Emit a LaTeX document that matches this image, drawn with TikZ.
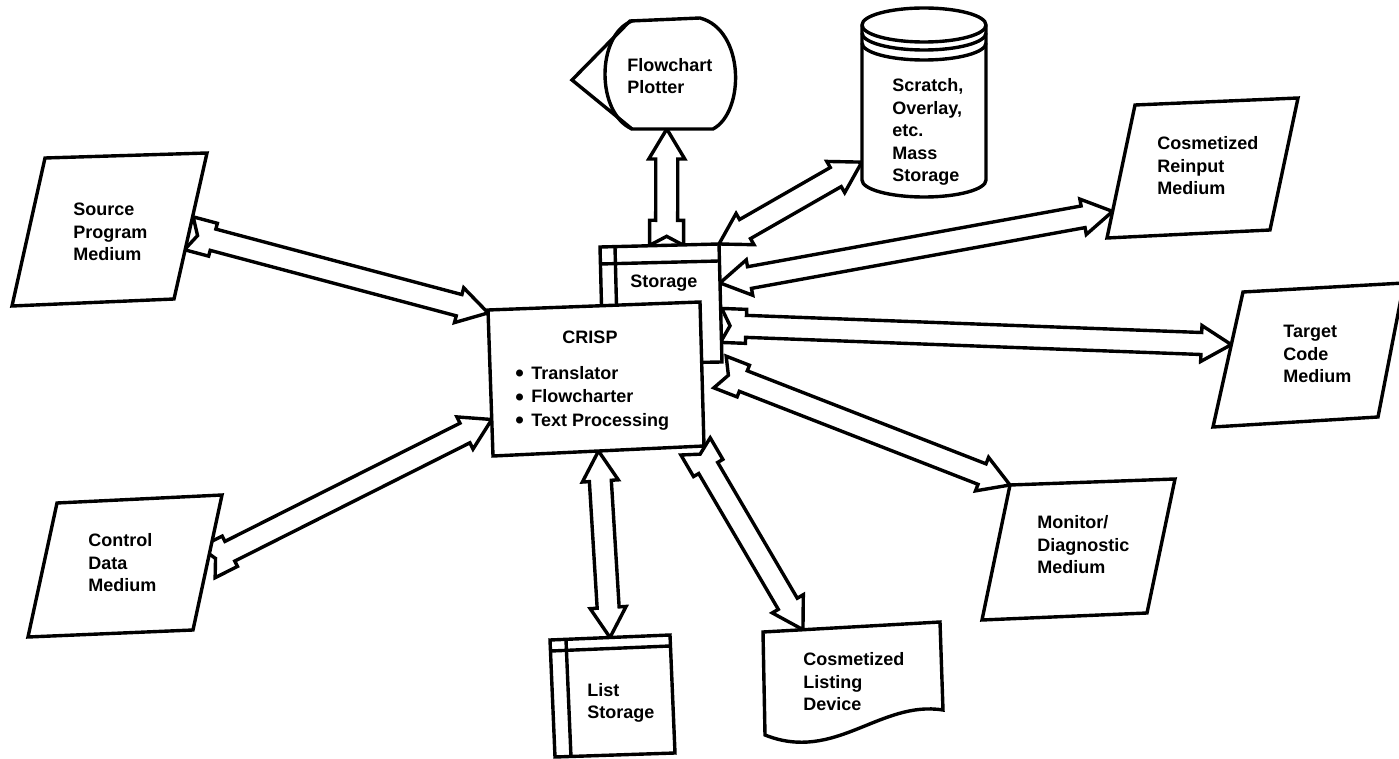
\documentclass[tikz,border=0pt]{standalone}
\usepackage{fontspec}
\setmainfont{Liberation Sans}
\usetikzlibrary{calc}
\tikzset{
  outl/.style={draw=black, line width=1.7pt, line join=miter},
  shp/.style={outl, fill=white},
  blk/.style={outl, fill=white},
  thin line/.style={draw=black, line width=1.7pt},
  lbl/.style={inner sep=0pt, align=left, anchor=west, font=\bfseries\fontsize{9}{11.25}\selectfont},
}
\newcommand\bigdot{\makebox[8pt][l]{\smash{\raisebox{-1.2pt}{\scalebox{1.35}{\textbullet}}}}}
\newcommand\arrowframe[2]{%
  \path (#1); \pgfgetlastxy{\bAx}{\bAy}%
  \path (#2); \pgfgetlastxy{\bBx}{\bBy}%
  \pgfmathsetmacro\bAng{atan2((\bBy)-(\bAy),(\bBx)-(\bAx))}%
  \pgfmathsetmacro\bLen{veclen((\bBx)-(\bAx),(\bBy)-(\bAy))}%
  \pgfmathsetmacro\bH{\bLen-15}%
}
% one head at the second end, notched tail at the first end
\newcommand\oneheadarrow[2]{%
  \arrowframe{#1}{#2}%
  \begin{scope}[shift={(\bAx,\bAy)},rotate=\bAng]
    \draw[blk] (\bLen pt,0pt) -- (\bH pt,9pt) -- (\bH pt,5.5pt) -- (12.5pt,5.5pt)
      -- (12.5pt,8.5pt) -- (0pt,8.5pt) -- (4.5pt,0pt) -- (0pt,-8.5pt) -- (12.5pt,-8.5pt)
      -- (12.5pt,-5.5pt) -- (\bH pt,-5.5pt) -- (\bH pt,-9pt) -- cycle;
  \end{scope}}
% heads at both ends
\newcommand\twoheadarrow[2]{%
  \arrowframe{#1}{#2}%
  \begin{scope}[shift={(\bAx,\bAy)},rotate=\bAng]
    \draw[blk] (\bLen pt,0pt) -- (\bH pt,9pt) -- (\bH pt,5.5pt) -- (15pt,5.5pt)
      -- (15pt,9pt) -- (0pt,0pt) -- (15pt,-9pt) -- (15pt,-5.5pt)
      -- (\bH pt,-5.5pt) -- (\bH pt,-9pt) -- cycle;
  \end{scope}}

\begin{document}
\begin{tikzpicture}[x=0.5pt,y=-0.5pt]
\fill[white] (0,0) rectangle (1399,759);
\useasboundingbox (0,0) rectangle (1399,759);
\clip (0,0) rectangle (1399,759);

% ---- corner coordinates of the shapes ----
\coordinate (sTL) at (45,158);   \coordinate (sTR) at (207,153);
\coordinate (sBR) at (174,299);  \coordinate (sBL) at (12,306);
\coordinate (kTL) at (57,503);   \coordinate (kTR) at (222,495);
\coordinate (kBR) at (193,630);  \coordinate (kBL) at (28,637);
\coordinate (cTL) at (488,310);  \coordinate (cTR) at (700,302);
\coordinate (cBR) at (704,446);  \coordinate (cBL) at (493,456);
\coordinate (tTL) at (600,247);  \coordinate (tTR) at (719,244);
\coordinate (tBR) at (722,362);  \coordinate (tBL) at (603,364);
\coordinate (pBL) at (632,129);  \coordinate (pBR) at (713,129);
\coordinate (cylL) at (862,162);
\coordinate (rTL) at (1135,105); \coordinate (rTR) at (1298,98);
\coordinate (rBR) at (1270,230); \coordinate (rBL) at (1107,238);
\coordinate (gTL) at (1243,292); \coordinate (gTR) at (1404,283);
\coordinate (gBR) at (1378,417); \coordinate (gBL) at (1213,427);
\coordinate (mTL) at (1010,485); \coordinate (mTR) at (1175,479);
\coordinate (mBR) at (1147,613); \coordinate (mBL) at (982,620);
\coordinate (lTL) at (763,632);  \coordinate (lTR) at (940,622);
\coordinate (lBR) at (943,710);  \coordinate (lBL) at (765,735);
\coordinate (qTL) at (550,640);  \coordinate (qTR) at (670,635);
\coordinate (qBR) at (675,753);  \coordinate (qBL) at (555,757);

% ---- connector end points ----
\coordinate (src-a) at ($(sTR)!0.55!(sBR)$);  \coordinate (src-b) at ($(cTL)!0.02!(cBL)$);
\coordinate (ctl-a) at ($(kTR)!0.5!(kBR)$);   \coordinate (ctl-b) at ($(cTL)!0.75!(cBL)$);
\coordinate (plt-a) at ($(tTL)!0.56!(tTR)$);  \coordinate (plt-b) at ($(pBL)!0.43!(pBR)$);
\coordinate (mas-a) at (tTR);                 \coordinate (mas-b) at (cylL);
\coordinate (rin-a) at ($(tTR)!0.33!(tBR)$);  \coordinate (rin-b) at ($(rTL)!0.8!(rBL)$);
\coordinate (tgt-a) at ($(tTR)!0.69!(tBR)$);  \coordinate (tgt-b) at ($(gTL)!0.39!(gBL)$);
\coordinate (mon-a) at ($(tBR)+(-2,10)$);     \coordinate (mon-b) at (mTL);
\coordinate (lst-a) at ($(cBL)!0.96!(cBR)$);  \coordinate (lst-b) at ($(lTL)!0.226!(lTR)$);
\coordinate (lis-a) at ($(cBL)!0.5!(cBR)$);   \coordinate (lis-b) at ($(qTL)!0.5!(qTR)$);

% ---- connectors ----
\oneheadarrow{src-a}{src-b}
\oneheadarrow{ctl-a}{ctl-b}
\oneheadarrow{plt-a}{plt-b}
\twoheadarrow{mas-a}{mas-b}
\twoheadarrow{rin-a}{rin-b}
\oneheadarrow{tgt-a}{tgt-b}
\oneheadarrow{mon-a}{mon-b}
\oneheadarrow{lst-a}{lst-b}
\twoheadarrow{lis-a}{lis-b}

% ---- shapes ----
\draw[shp] (sTL) -- (sTR) -- (sBR) -- (sBL) -- cycle;
\draw[shp] (kTL) -- (kTR) -- (kBR) -- (kBL) -- cycle;
\draw[shp] (rTL) -- (rTR) -- (rBR) -- (rBL) -- cycle;
\draw[shp] (gTL) -- (gTR) -- (gBR) -- (gBL) -- cycle;
\draw[shp] (mTL) -- (mTR) -- (mBR) -- (mBL) -- cycle;
% storage (behind CRISP)
\draw[shp] (tTL) -- (tTR) -- (tBR) -- (tBL) -- cycle;
\draw[thin line] (600,264) -- (719,261);
\draw[thin line] (615,247) -- (618,364);
% CRISP
\draw[shp] (cTL) -- (cTR) -- (cBR) -- (cBL) -- cycle;
% flowchart plotter (display)
\draw[shp] (630,21) -- (700,18) .. controls (745,30) and (745,112) .. (pBR) -- (pBL) -- (572,80) -- cycle;
\draw[thin line] (632,21) .. controls (596,35) and (596,113) .. (pBL);
% mass storage cylinder
\draw[shp] (862,25) -- (862,180) arc[start angle=180,end angle=360,x radius=31pt,y radius=8.5pt]
  -- (986,25) arc[start angle=0,end angle=180,x radius=31pt,y radius=8.5pt] -- cycle;
\draw[thin line] (862,25) arc[start angle=180,end angle=360,x radius=31pt,y radius=8.5pt];
\draw[thin line] (862,33) arc[start angle=180,end angle=360,x radius=31pt,y radius=8.5pt];
\draw[thin line] (862,43) arc[start angle=180,end angle=360,x radius=31pt,y radius=8.5pt];
% listing document
\draw[shp] (lTL) -- (lTR) -- (lBR) .. controls (880,700) and (835,763) .. (lBL) -- cycle;
% list storage
\draw[shp] (qTL) -- (qTR) -- (qBR) -- (qBL) -- cycle;
\draw[thin line] (551,651) -- (670,646);
\draw[thin line] (566,640) -- (571,757);

% ---- labels ----
\node[lbl] (t-src) at (73,232) {Source\\Program\\Medium};
\node[lbl] (t-ctl) at (88,563) {Control\\Data\\Medium};
\node[lbl, anchor=center] (t-crisp) at (590,337) {CRISP};
\node[lbl, font=\bfseries\fontsize{9}{11.75}\selectfont] (t-bul) at (515,398)
  {\bigdot Translator\\\bigdot Flowcharter\\\bigdot Text Processing};
\node[lbl] (t-stor) at (630,283) {Storage};
\node[lbl] (t-plot) at (627,76) {Flowchart\\Plotter};
\node[lbl] (t-mass) at (892,132) {Scratch,\\Overlay,\\etc.\\Mass\\Storage};
\node[lbl] (t-rein) at (1157,166) {Cosmetized\\Reinput\\Medium};
\node[lbl] (t-tgt) at (1283,354) {Target\\Code\\Medium};
\node[lbl] (t-mon) at (1037,545) {Monitor/\\Diagnostic\\Medium};
\node[lbl] (t-lst) at (803,682) {Cosmetized\\Listing\\Device};
\node[lbl] (t-lis) at (587,703) {List\\Storage};
\end{tikzpicture}
\end{document}
